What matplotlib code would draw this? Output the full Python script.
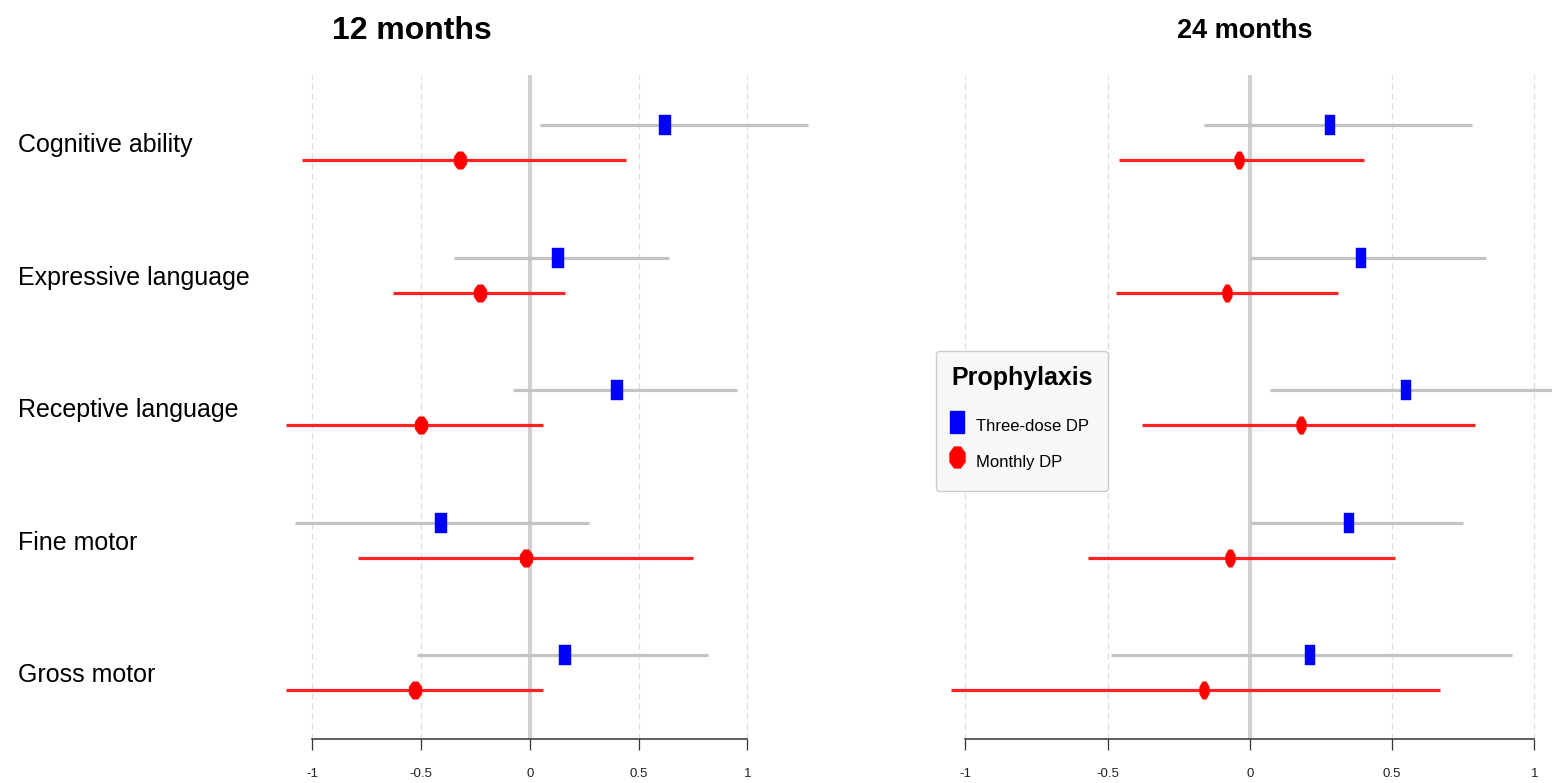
import numpy as np
import matplotlib
matplotlib.use("Agg")
import matplotlib.pyplot as plt
from matplotlib.path import Path
from matplotlib.lines import Line2D
from matplotlib.transforms import blended_transform_factory

# ---- data -------------------------------------------------------------
outcomes = ["Cognitive ability", "Expressive language", "Receptive language",
            "Fine motor", "Gross motor"]
ticks = [-1, -0.5, 0, 0.5, 1]
tick_labels = ["-1", "-0.5", "0", "0.5", "1"]

# 12 months: estimate and 95% CI
three12_est = [0.62, 0.13, 0.40, -0.41, 0.16]
three12_lo = [0.045, -0.35, -0.08, -1.08, -0.52]
three12_hi = [1.28, 0.64, 0.95, 0.27, 0.82]
monthly12_est = [-0.32, -0.23, -0.50, -0.02, -0.53]
monthly12_lo = [-1.05, -0.63, -1.12, -0.79, -1.12]
monthly12_hi = [0.44, 0.16, 0.06, 0.75, 0.06]

# 24 months: estimate and 95% CI
three24_est = [0.28, 0.39, 0.55, 0.35, 0.21]
three24_lo = [-0.16, 0.0, 0.07, 0.0, -0.49]
three24_hi = [0.78, 0.83, 1.10, 0.75, 0.92]
monthly24_est = [-0.04, -0.08, 0.18, -0.07, -0.16]
monthly24_lo = [-0.46, -0.47, -0.38, -0.57, -1.05]
monthly24_hi = [0.40, 0.31, 0.79, 0.51, 0.67]

# ---- styling -----------------------------------------------------------
W, H = 1552, 783
DPI = 100
FONT = ["Liberation Sans", "DejaVu Sans"]
BLUE = "#0000ff"
RED = "#ff0000"
CI_GREY = "#c3c3c3"
CI_RED = "#ff2222"


def rect_marker(aspect):
    hw = 0.5 * aspect
    verts = [(-hw, -0.5), (hw, -0.5), (hw, 0.5), (-hw, 0.5), (-hw, -0.5)]
    codes = [Path.MOVETO, Path.LINETO, Path.LINETO, Path.LINETO, Path.CLOSEPOLY]
    return Path(verts, codes)


def oval_marker(aspect, n=8):
    ang = np.linspace(0, 2 * np.pi, n, endpoint=False) + np.pi / n
    verts = [(0.5 * aspect * np.cos(a) / np.cos(np.pi / n), 0.5 * np.sin(a) / np.cos(np.pi / n))
             for a in ang]
    verts.append(verts[0])
    codes = [Path.MOVETO] + [Path.LINETO] * (n - 1) + [Path.CLOSEPOLY]
    return Path(verts, codes)


fig = plt.figure(figsize=(W / DPI, H / DPI), dpi=DPI)
fig.patch.set_facecolor("white")

AX_TOP, AX_BOT = 75, 739
ROW_STEP = 132.5
ROW0 = 142.5
y_top = -(ROW0 - AX_TOP) / ROW_STEP
y_bot = (AX_BOT - ROW0) / ROW_STEP
OFF = 17.5 / ROW_STEP


def make_panel(left_px, right_px, xlim, est_a, lo_a, hi_a, est_b, lo_b, hi_b,
               sq_aspect, ov_aspect):
    ax = fig.add_axes([left_px / W, 1 - AX_BOT / H, (right_px - left_px) / W,
                       (AX_BOT - AX_TOP) / H])
    ax.set_xlim(*xlim)
    ax.set_ylim(y_bot, y_top)
    for s in ["top", "right", "left"]:
        ax.spines[s].set_visible(False)
    ax.spines["bottom"].set_bounds(-1, 1)
    ax.spines["bottom"].set_color("#333333")
    ax.spines["bottom"].set_linewidth(1.1)
    ax.set_yticks([])
    ax.set_xticks(ticks)
    ax.set_xticklabels(tick_labels, family=FONT, fontsize=9.5, color="#222222")
    ax.tick_params(axis="x", length=8, width=0.9, color="#333333", pad=13)

    for t in ticks:
        if t == 0:
            ax.axvline(0, color="#d0d0d0", lw=3.0, zorder=1)
        else:
            ax.axvline(t, color="#dedede", lw=0.9, ls=(0, (5, 3)), zorder=0)

    y = np.arange(len(outcomes))
    ya = y - OFF
    yb = y + OFF
    ax.hlines(ya, lo_a, hi_a, color=CI_GREY, lw=2.3, zorder=2)
    ax.hlines(yb, lo_b, hi_b, color=CI_RED, lw=2.3, zorder=2)
    ax.plot(est_a, ya, ls="none", marker=rect_marker(sq_aspect), ms=13.7,
            mfc=BLUE, mec=BLUE, mew=0.3, zorder=3)
    ax.plot(est_b, yb, ls="none", marker=oval_marker(ov_aspect), ms=12.5,
            mfc=RED, mec=RED, mew=0.3, zorder=3)
    return ax


ax1 = make_panel(258, 824, (-1.25, 1.352),
                 three12_est, three12_lo, three12_hi,
                 monthly12_est, monthly12_lo, monthly12_hi, 0.68, 0.74)
ax2 = make_panel(937, 1552, (-1.1, 1.062),
                 three24_est, three24_lo, three24_hi,
                 monthly24_est, monthly24_lo, monthly24_hi, 0.53, 0.55)

# outcome labels on the far left
tr = blended_transform_factory(fig.transFigure, ax1.transData)
for i, name in enumerate(outcomes):
    ax1.text(18 / W, i + 0.02, name, transform=tr, ha="left", va="center",
             family=FONT, fontsize=18, color="black", clip_on=False)

# panel titles
fig.text(412 / W, 1 - 31 / H, "12 months", ha="center", va="center",
         family=FONT, fontsize=23, fontweight="bold")
fig.text(1245 / W, 1 - 31 / H, "24 months", ha="center", va="center",
         family=FONT, fontsize=19.5, fontweight="bold")

# legend
handles = [
    Line2D([], [], ls="none", marker=rect_marker(0.6), ms=16.5, mfc=BLUE, mec=BLUE),
    Line2D([], [], ls="none", marker=oval_marker(0.72), ms=15, mfc=RED, mec=RED),
]
leg = fig.legend(handles, ["Three-dose DP", "Monthly DP"], title="Prophylaxis",
                 loc="upper left", bbox_to_anchor=(936 / W, 1 - 351 / H),
                 prop={"family": FONT, "size": 12},
                 title_fontproperties={"family": FONT, "size": 18, "weight": "bold"},
                 frameon=True, fancybox=True, framealpha=1,
                 facecolor="#f8f8f8", edgecolor="#cccccc",
                 handlelength=0.7, handleheight=2.2, handletextpad=0.8,
                 labelspacing=0.45, borderpad=0.9, borderaxespad=0)
leg._legend_box.align = "left"
leg._legend_box.sep = 16
leg.get_frame().set_linewidth(1.0)

fig.savefig("out.png", dpi=DPI, facecolor="white")
